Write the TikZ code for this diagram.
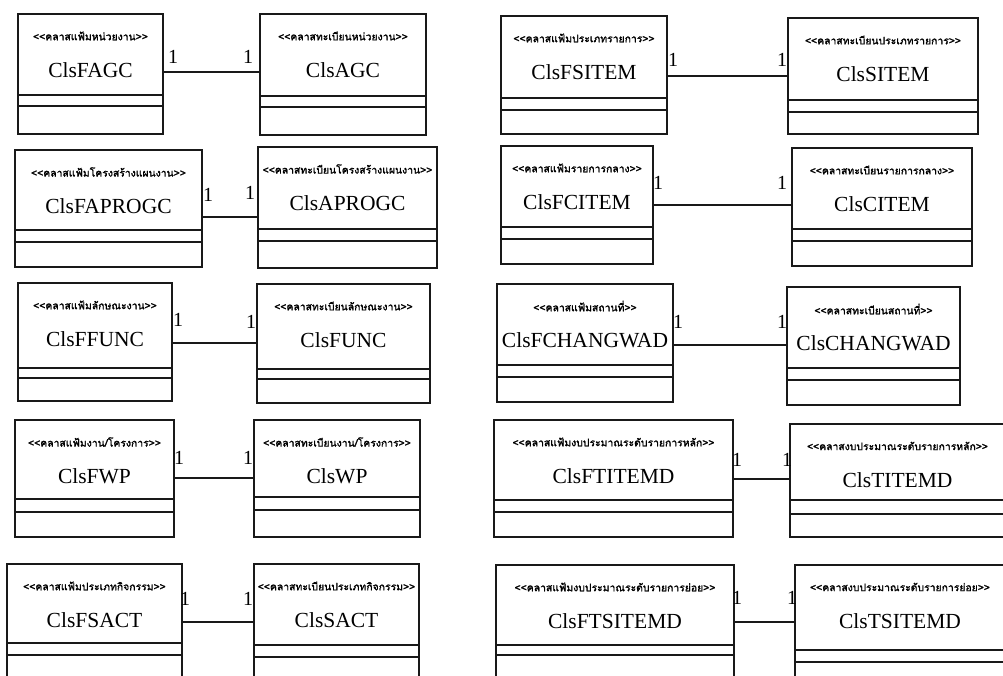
\documentclass[tikz,border=0pt]{standalone}
\usepackage{fontspec}
\setmainfont{Liberation Serif}
\newfontfamily\thaifont[Script=Thai, FakeBold=1.6]{Loma}
\usetikzlibrary{fit}
\newcommand\stL{<\kern0pt<}
\newcommand\stR{>\kern0pt>}
\tikzset{
  clsbox/.style={draw=black!90, line width=1.1pt, inner sep=0pt, outer sep=0pt},
  sepline/.style={draw=black!90, line width=1.1pt},
  stereo/.style={font=\thaifont\fontsize{10.4}{12}\selectfont, inner sep=0pt},
  clsname/.style={font=\fontsize{21.5}{24}\selectfont, inner sep=0pt},
  mult/.style={font=\fontsize{20}{23}\selectfont, inner sep=0pt},
  assoc/.style={draw=black!90, line width=1.1pt},
}
\newcommand\umlcls[9]{%
  \node[clsbox, fit={(#2,#3) (#4,#5)}] (#1) {};
  \draw[sepline] (#2,#6) -- (#4,#6) (#2,#7) -- (#4,#7);
  \node[stereo] (#1-st) at ({(#2+#4)/2},{#3+22}) {\stL#8\stR};
  \node[clsname] (#1-nm) at ({(#2+#4)/2},{#3+56}) {#9};
}
\begin{document}
\begin{tikzpicture}[x=1pt,y=-1pt]
\useasboundingbox (0,0) rectangle (1003,675);
\clip (0,0) rectangle (1003,675);
\fill[white] (0,0) rectangle (1003,675);
% left column
\umlcls{fagc}{18}{14}{163}{134}{95}{106}{คลาสแฟ้มหน่วยงาน}{ClsFAGC}
\umlcls{agc}{260}{14}{426}{135}{96}{107}{คลาสทะเบียนหน่วยงาน}{ClsAGC}
\umlcls{faprogc}{15}{150}{202}{267}{230}{242}{คลาสแฟ้มโครงสร้างแผนงาน}{ClsFAPROGC}
\umlcls{aprogc}{258}{147}{437}{268}{229}{241}{คลาสทะเบียนโครงสร้างแผนงาน}{ClsAPROGC}
\umlcls{ffunc}{18}{283}{172}{401}{368}{378}{คลาสแฟ้มลักษณะงาน}{ClsFFUNC}
\umlcls{func}{257}{284}{430}{403}{369}{379}{คลาสทะเบียนลักษณะงาน}{ClsFUNC}
\umlcls{fwp}{15}{420}{174}{537}{499}{512}{คลาสแฟ้มงาน/โครงการ}{ClsFWP}
\umlcls{wp}{254}{420}{420}{537}{497}{510}{คลาสทะเบียนงาน/โครงการ}{ClsWP}
\umlcls{fsact}{7}{564}{182}{690}{643}{655}{คลาสแฟ้มประเภทกิจกรรม}{ClsFSACT}
\umlcls{sact}{254}{564}{419}{690}{645}{657}{คลาสทะเบียนประเภทกิจกรรม}{ClsSACT}
% right column
\umlcls{fsitem}{501}{16}{667}{134}{98}{110}{คลาสแฟ้มประเภทรายการ}{ClsFSITEM}
\umlcls{sitem}{788}{18}{978}{134}{100}{112}{คลาสทะเบียนประเภทรายการ}{ClsSITEM}
\umlcls{fcitem}{501}{146}{653}{264}{227}{239}{คลาสแฟ้มรายการกลาง}{ClsFCITEM}
\umlcls{citem}{792}{148}{972}{266}{229}{241}{คลาสทะเบียนรายการกลาง}{ClsCITEM}
\umlcls{fchangwad}{497}{284}{673}{402}{365}{377}{คลาสแฟ้มสถานที่}{ClsFCHANGWAD}
\umlcls{changwad}{787}{287}{960}{405}{368}{380}{คลาสทะเบียนสถานที่}{ClsCHANGWAD}
\umlcls{ftitemd}{494}{420}{733}{537}{500}{512}{คลาสแฟ้มงบประมาณระดับรายการหลัก}{ClsFTITEMD}
\umlcls{titemd}{790}{424}{1005}{537}{500}{514}{คลาสงบประมาณระดับรายการหลัก}{ClsTITEMD}
\umlcls{ftsitemd}{496}{565}{734}{690}{645}{655}{คลาสแฟ้มงบประมาณระดับรายการย่อย}{ClsFTSITEMD}
\umlcls{tsitemd}{795}{565}{1005}{690}{650}{662}{คลาสงบประมาณระดับรายการย่อย}{ClsTSITEMD}
% associations
\draw[assoc] (fagc.east |- 0,72) -- (agc.west |- 0,72);
\draw[assoc] (faprogc.east |- 0,217) -- (aprogc.west |- 0,217);
\draw[assoc] (ffunc.east |- 0,343) -- (func.west |- 0,343);
\draw[assoc] (fwp.east |- 0,478) -- (wp.west |- 0,478);
\draw[assoc] (fsact.east |- 0,622) -- (sact.west |- 0,622);
\draw[assoc] (fsitem.east |- 0,76) -- (sitem.west |- 0,76);
\draw[assoc] (fcitem.east |- 0,205) -- (citem.west |- 0,205);
\draw[assoc] (fchangwad.east |- 0,345) -- (changwad.west |- 0,345);
\draw[assoc] (ftitemd.east |- 0,479) -- (titemd.west |- 0,479);
\draw[assoc] (ftsitemd.east |- 0,622) -- (tsitemd.west |- 0,622);
% multiplicities
\node[mult] (m1a) at (173,57) {1};  \node[mult] (m1b) at (248,57) {1};
\node[mult] (m2a) at (208,195) {1}; \node[mult] (m2b) at (250,193) {1};
\node[mult] (m3a) at (178,320) {1}; \node[mult] (m3b) at (251,322) {1};
\node[mult] (m4a) at (179,458) {1}; \node[mult] (m4b) at (248,458) {1};
\node[mult] (m5a) at (185,599) {1}; \node[mult] (m5b) at (248,599) {1};
\node[mult] (m6a) at (673,60) {1};  \node[mult] (m6b) at (782,60) {1};
\node[mult] (m7a) at (658,183) {1}; \node[mult] (m7b) at (782,183) {1};
\node[mult] (m8a) at (678,322) {1}; \node[mult] (m8b) at (782,322) {1};
\node[mult] (m9a) at (737,460) {1}; \node[mult] (m9b) at (787,460) {1};
\node[mult] (m10a) at (737,598) {1}; \node[mult] (m10b) at (792,598) {1};
\end{tikzpicture}
\end{document}
